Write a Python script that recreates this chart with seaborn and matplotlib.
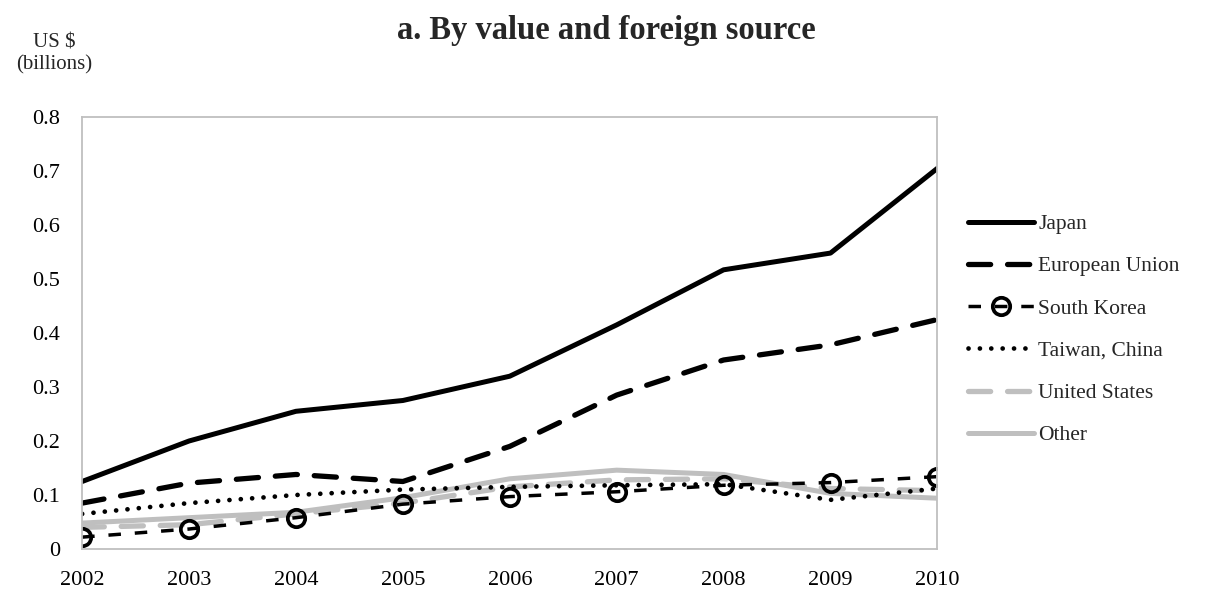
import pandas as pd
import seaborn as sns
import matplotlib.pyplot as plt
from matplotlib.ticker import FuncFormatter

years = [2002, 2003, 2004, 2005, 2006, 2007, 2008, 2009, 2010]
japan = [0.125, 0.200, 0.255, 0.275, 0.320, 0.415, 0.517, 0.548, 0.705]
european_union = [0.085, 0.122, 0.138, 0.125, 0.190, 0.285, 0.350, 0.378, 0.425]
south_korea = [0.022, 0.037, 0.058, 0.083, 0.097, 0.106, 0.118, 0.123, 0.134]
taiwan_china = [0.065, 0.085, 0.100, 0.110, 0.115, 0.118, 0.120, 0.091, 0.112]
united_states = [0.040, 0.045, 0.065, 0.085, 0.115, 0.128, 0.130, 0.112, 0.108]
other = [0.048, 0.058, 0.068, 0.095, 0.130, 0.146, 0.138, 0.103, 0.094]

series = {
    'Japan': japan,
    'European Union': european_union,
    'South Korea': south_korea,
    'Taiwan, China': taiwan_china,
    'United States': united_states,
    'Other': other,
}

# line look per series (dash lengths are in linewidth units)
styles = {
    'Japan': dict(color='black', linewidth=3.6, linestyle='-'),
    'European Union': dict(color='black', linewidth=3.8, linestyle=(0, (4.2, 3.2)),
                           dash_capstyle='round'),
    'South Korea': dict(color='black', linewidth=2.5, linestyle=(0, (3.6, 4.0)),
                        marker='o', markersize=12.5, markerfacecolor='none',
                        markeredgecolor='black', markeredgewidth=2.7),
    'Taiwan, China': dict(color='black', linewidth=3.4, linestyle=(0, (0.01, 2.4)),
                          dash_capstyle='round'),
    'United States': dict(color='#bfbfbf', linewidth=3.8, linestyle=(0, (4.2, 3.2)),
                          dash_capstyle='round'),
    'Other': dict(color='#bfbfbf', linewidth=3.6, linestyle='-'),
}

sns.set_theme(style='white')
plt.rcParams['font.family'] = ['Liberation Serif', 'DejaVu Serif']

fig = plt.figure(figsize=(12.08, 5.90), dpi=100)
ax = fig.add_axes([0.068, 0.0695, 0.708, 0.7322])

df = pd.DataFrame(series, index=years)
df.index.name = 'year'
long_df = df.reset_index().melt(id_vars='year', var_name='source', value_name='value')

# draw back to front so the black lines sit over the grey ones
for name in ['Other', 'United States', 'Taiwan, China', 'South Korea', 'European Union', 'Japan']:
    sub = long_df[long_df['source'] == name]
    sns.lineplot(data=sub, x='year', y='value', ax=ax, label=name, **styles[name])

ax.set_xlim(2002, 2010)
ax.set_ylim(0, 0.8)
ax.set_xticks(years)
ax.set_yticks([i / 10 for i in range(9)])
ax.yaxis.set_major_formatter(FuncFormatter(lambda v, p: '0' if v == 0 else f'{v:.1f}'))
ax.set_xlabel('')
ax.set_ylabel('')
ax.tick_params(axis='both', length=0, labelsize=16, colors='black')
ax.tick_params(axis='x', pad=16)
ax.tick_params(axis='y', pad=16)
for sp in ax.spines.values():
    sp.set_color('#bfbfbf')
    sp.set_linewidth(1.3)

handles, labels = ax.get_legend_handles_labels()
order = list(series.keys())
hmap = dict(zip(labels, handles))
ax.get_legend().remove()
fig.legend([hmap[k] for k in order], order, loc='center left',
           bbox_to_anchor=(0.7925, 0.441), frameon=False, fontsize=15.5,
           handlelength=3.05, handletextpad=0.2, labelspacing=1.03, borderpad=0)

fig.text(0.502, 0.948, 'a. By value and foreign source', ha='center', va='center',
         fontsize=23.5, fontweight='bold')
fig.text(0.045, 0.908, 'US $\n(billions)', ha='center', va='center', fontsize=15,
         linespacing=1.2)

plt.savefig('out.png', dpi=100)
